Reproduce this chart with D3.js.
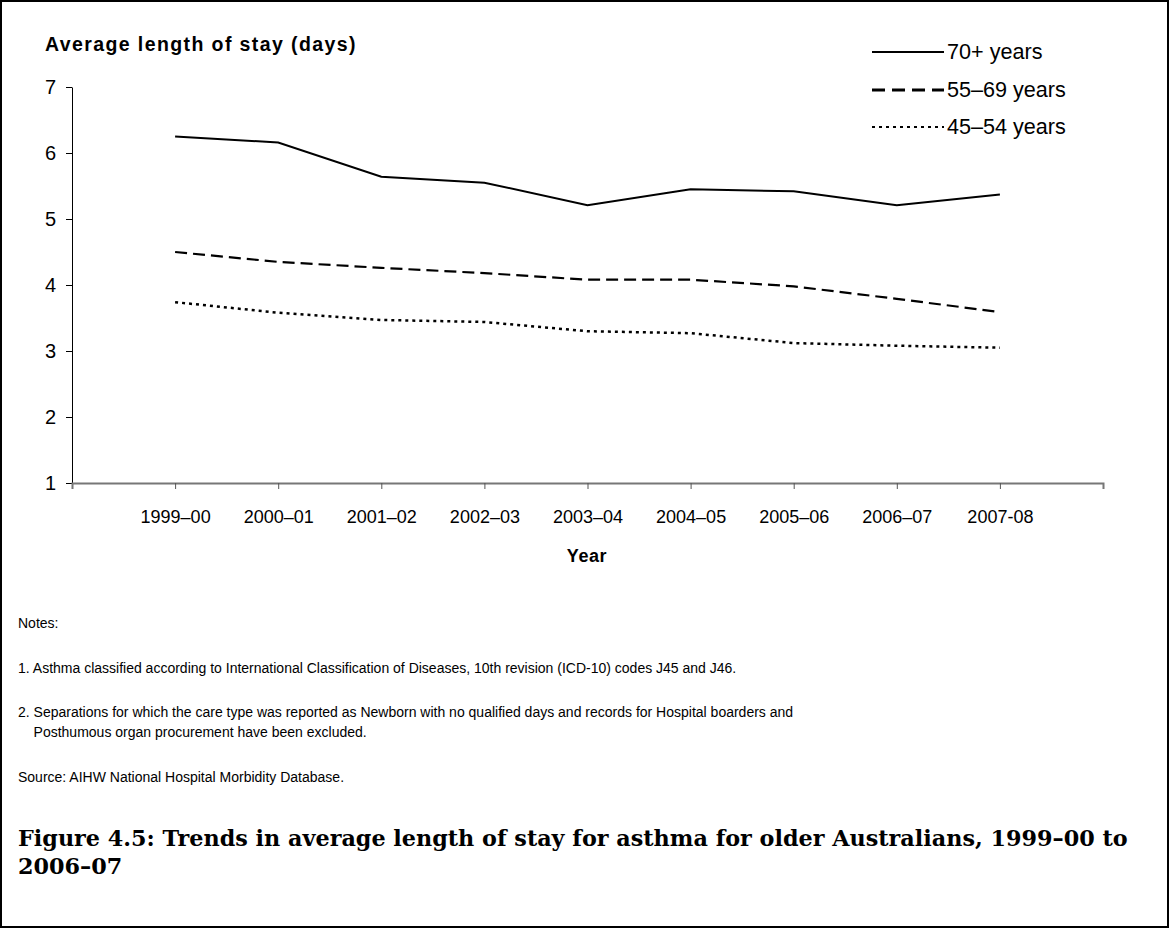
<!DOCTYPE html>
<html>
<head>
<meta charset="utf-8">
<script src="https://cdn.jsdelivr.net/npm/d3@7"></script>
<style>
  body { margin: 0; background: #fff; }
  svg { display: block; }
</style>
</head>
<body>
<div class="chart-holder"></div>
<script>
const years = ["1999–00", "2000–01", "2001–02", "2002–03", "2003–04", "2004–05", "2005–06", "2006–07", "2007-08"];
const age70 = [6.25, 6.16, 5.64, 5.55, 5.21, 5.45, 5.42, 5.21, 5.37];
const age55 = [4.50, 4.35, 4.26, 4.18, 4.08, 4.08, 3.98, 3.79, 3.59];
const age45 = [3.74, 3.58, 3.47, 3.44, 3.30, 3.27, 3.12, 3.08, 3.05];
const seriesNames = ["70+ years", "55–69 years", "45–54 years"];
const yTicks = [1, 2, 3, 4, 5, 6, 7];
const notes = [
  "Notes:",
  "1. Asthma classified according to International Classification of Diseases, 10th revision (ICD-10) codes J45 and J46.",
  "2. Separations for which the care type was reported as Newborn with no qualified days and records for Hospital boarders and",
  "    Posthumous organ procurement have been excluded.",
  "Source: AIHW National Hospital Morbidity Database."
];
const caption = ["Figure 4.5: Trends in average length of stay for asthma for older Australians, 1999–00 to", "2006–07"];

function controller() {
  const width = 1169;
  const height = 928;

  const svg = d3.select(".chart-holder")
    .append("svg")
    .attr("width", width)
    .attr("height", height);

  // outer frame
  svg.append("rect")
    .attr("x", 1).attr("y", 1)
    .attr("width", width - 2).attr("height", height - 2)
    .attr("fill", "none").attr("stroke", "#000").attr("stroke-width", 2);

  const plotLeft = 72, plotRight = 1103, plotTop = 87, plotBottom = 483;

  const x = d3.scalePoint().domain(years).range([plotLeft, plotRight]).padding(1);
  const y = d3.scaleLinear().domain([1, 7]).range([plotBottom, plotTop]);

  // y axis
  const yAxis = svg.append("g")
    .attr("transform", `translate(${plotLeft},0)`)
    .call(d3.axisLeft(y).tickValues(yTicks).tickSize(6).tickSizeOuter(0).tickFormat(d3.format("d")));
  yAxis.selectAll("text")
    .attr("font-family", "Liberation Sans, Arial, sans-serif")
    .attr("font-size", 20).attr("fill", "#000").attr("x", -16);
  yAxis.select(".domain").attr("stroke", "#000");
  yAxis.selectAll(".tick line").attr("stroke", "#000");

  // x axis
  const xAxis = svg.append("g")
    .attr("transform", `translate(0,${plotBottom})`)
    .call(d3.axisBottom(x).tickSize(6).tickSizeOuter(6));
  xAxis.select(".domain").attr("stroke", "#777").attr("stroke-width", 2);
  xAxis.selectAll(".tick line").attr("stroke", "#555");
  xAxis.selectAll("text")
    .attr("font-family", "Liberation Sans, Arial, sans-serif")
    .attr("font-size", 18).attr("fill", "#000").attr("y", 27);

  // axis titles
  svg.append("text")
    .attr("x", 45).attr("y", 51)
    .attr("font-family", "Liberation Sans, Arial, sans-serif")
    .attr("font-size", 19.5).attr("font-weight", "bold")
    .attr("letter-spacing", 1.4)
    .text("Average length of stay (days)");

  svg.append("text")
    .attr("x", 587).attr("y", 562)
    .attr("text-anchor", "middle")
    .attr("font-family", "Liberation Sans, Arial, sans-serif")
    .attr("font-size", 18).attr("font-weight", "bold")
    .attr("letter-spacing", 0.6)
    .text("Year");

  // lines
  const styles = [
    { dash: null, width: 2 },
    { dash: "12,6", width: 2.2 },
    { dash: "3,4", width: 2.5 }
  ];
  const allSeries = [age70, age55, age45];
  const line = d3.line()
    .x((d, i) => x(years[i]))
    .y(d => y(d));

  svg.selectAll(".series")
    .data(allSeries)
    .join("path")
    .attr("class", "series")
    .attr("fill", "none")
    .attr("stroke", "#000")
    .attr("stroke-width", (d, i) => styles[i].width)
    .attr("stroke-dasharray", (d, i) => styles[i].dash)
    .attr("d", line);

  // legend
  const legend = svg.append("g").attr("transform", "translate(872,0)");
  const legendY = [52, 90, 127];
  seriesNames.forEach((name, i) => {
    legend.append("line")
      .attr("x1", 0).attr("x2", 72)
      .attr("y1", legendY[i]).attr("y2", legendY[i])
      .attr("stroke", "#000")
      .attr("stroke-width", i === 1 ? 3 : 2)
      .attr("stroke-dasharray", i === 0 ? null : (i === 1 ? "13,7" : "3,4"));
    legend.append("text")
      .attr("x", 75).attr("y", legendY[i] + 7)
      .attr("font-family", "Liberation Sans, Arial, sans-serif")
      .attr("font-size", 21.6)
      .text(name);
  });

  // notes
  const noteY = [628, 673, 717, 737, 782];
  notes.forEach((t, i) => {
    svg.append("text")
      .attr("x", 18).attr("y", noteY[i])
      .attr("font-family", "Liberation Sans, Arial, sans-serif")
      .attr("font-size", 14)
      .style("white-space", "pre")
      .text(t);
  });

  // caption
  caption.forEach((t, i) => {
    svg.append("text")
      .attr("x", 18).attr("y", 846 + i * 28)
      .attr("font-family", "DejaVu Serif, serif")
      .attr("font-size", 22.3).attr("font-weight", "bold")
      .text(t);
  });
}

controller();
</script>
</body>
</html>
